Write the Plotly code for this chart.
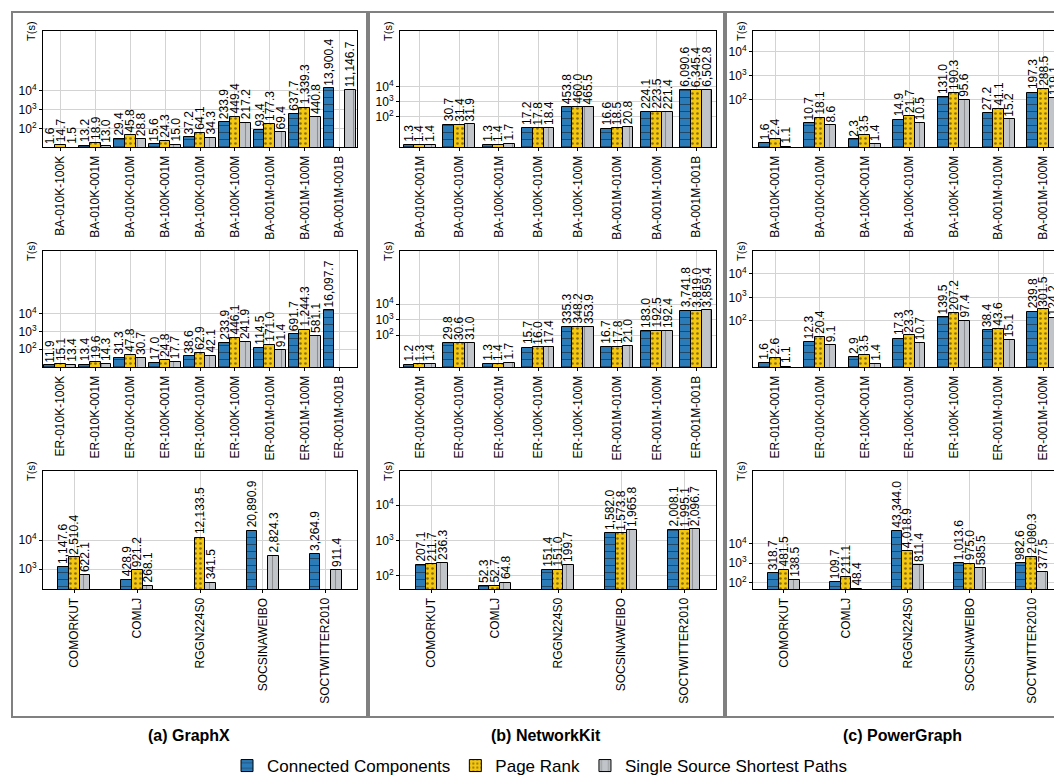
import math
import plotly.graph_objects as go

W, H = 1062, 780
SERIES = ["Connected Components", "Page Rank", "Single Source Shortest Paths"]

# ---------------- categories ----------------
ba_cats_gx = ["BA-010K-100K", "BA-010K-001M", "BA-010K-010M", "BA-100K-001M", "BA-100K-010M",
              "BA-100K-100M", "BA-001M-010M", "BA-001M-100M", "BA-001M-001B"]
ba_cats_nk = ["BA-010K-001M", "BA-010K-010M", "BA-100K-001M", "BA-100K-010M",
              "BA-100K-100M", "BA-001M-010M", "BA-001M-100M", "BA-001M-001B"]
ba_cats_pg = ["BA-010K-001M", "BA-010K-010M", "BA-100K-001M", "BA-100K-010M",
              "BA-100K-100M", "BA-001M-010M", "BA-001M-100M"]
er_cats_gx = ["ER-010K-100K", "ER-010K-001M", "ER-010K-010M", "ER-100K-001M", "ER-100K-010M",
              "ER-100K-100M", "ER-001M-010M", "ER-001M-100M", "ER-001M-001B"]
er_cats_nk = ["ER-010K-001M", "ER-010K-010M", "ER-100K-001M", "ER-100K-010M",
              "ER-100K-100M", "ER-001M-010M", "ER-001M-100M", "ER-001M-001B"]
er_cats_pg = ["ER-010K-001M", "ER-010K-010M", "ER-100K-001M", "ER-100K-010M",
              "ER-100K-100M", "ER-001M-010M", "ER-001M-100M"]
real_cats = ["COMORKUT", "COMLJ", "RGGN224S0", "SOCSINAWEIBO", "SOCTWITTER2010"]

# ---------------- values (seconds) ----------------
gx_ba_cc = [1.6, 13.2, 29.4, 15.6, 37.2, 233.9, 93.4, 637.7, 13900.4]
gx_ba_pr = [14.7, 18.9, 45.8, 24.3, 64.1, 449.4, 177.3, 1339.3, None]
gx_ba_sp = [1.5, 13.0, 28.8, 15.0, 34.3, 217.2, 69.4, 440.8, 11146.7]

gx_er_cc = [11.9, 13.4, 31.3, 17.0, 38.6, 233.9, 114.5, 691.7, 16097.7]
gx_er_pr = [15.1, 19.6, 47.8, 24.8, 62.9, 446.1, 171.0, 1244.3, None]
gx_er_sp = [13.4, 14.3, 30.7, 17.7, 42.1, 241.9, 91.4, 581.1, None]

gx_re_cc = [1147.6, 428.9, None, 20890.9, 3264.9]
gx_re_pr = [2510.4, 921.2, 12133.5, None, None]
gx_re_sp = [622.1, 268.1, 341.5, 2824.3, 911.4]

nk_ba_cc = [1.3, 30.7, 1.3, 17.2, 453.8, 16.6, 224.1, 6090.6]
nk_ba_pr = [1.4, 31.4, 1.4, 17.8, 460.0, 18.5, 223.5, 6345.4]
nk_ba_sp = [1.4, 31.9, 1.7, 18.4, 465.5, 20.8, 221.4, 6502.8]

nk_er_cc = [1.2, 29.8, 1.3, 15.7, 335.3, 16.7, 183.0, 3741.8]
nk_er_pr = [1.3, 30.6, 1.4, 16.0, 348.2, 17.8, 192.5, 3819.0]
nk_er_sp = [1.4, 31.0, 1.7, 17.4, 353.9, 21.0, 192.4, 3859.4]

nk_re_cc = [207.1, 52.3, 151.4, 1582.0, 2008.1]
nk_re_pr = [211.7, 52.7, 151.0, 1573.8, 1995.1]
nk_re_sp = [236.3, 64.8, 199.7, 1965.8, 2096.7]

pg_ba_cc = [1.6, 10.7, 2.3, 14.9, 131.0, 27.2, 197.3]
pg_ba_pr = [2.4, 18.1, 3.5, 21.7, 190.3, 41.1, 288.5]
pg_ba_sp = [1.1, 8.6, 1.4, 10.5, 95.6, 15.2, 119.1]

pg_er_cc = [1.6, 12.3, 2.9, 17.3, 139.5, 38.4, 239.8]
pg_er_pr = [2.6, 20.4, 3.5, 23.3, 207.2, 43.6, 301.5]
pg_er_sp = [1.1, 9.1, 1.4, 10.7, 97.4, 15.1, 124.2]

pg_re_cc = [318.7, 109.7, 43344.0, 1013.6, 982.6]
pg_re_pr = [481.5, 211.1, 4018.9, 975.0, 2080.3]
pg_re_sp = [138.5, 48.4, 811.4, 585.5, 377.5]

col_titles = ["(a) GraphX", "(b) NetworkKit", "(c) PowerGraph"]

# ---------------- layout geometry (pixels) ----------------
COL_PX = [(35, 349), (392, 708), (745, 1062)]
ROW_PX = [(23, 139), (243, 359), (463, 581)]
FRAME_X = [(4, 359), (361, 716), (718, 1080)]
FRAME_Y = (4, 709)
TITLE_X = [181, 538, 894]

panels = [
    # col, row, cats, cc, pr, sp, log y-range, x upper bound
    (0, 0, ba_cats_gx, gx_ba_cc, gx_ba_pr, gx_ba_sp, [1.05, 7.16], 8.5),
    (0, 1, er_cats_gx, gx_er_cc, gx_er_pr, gx_er_sp, [0.99, 7.54], 8.5),
    (0, 2, real_cats, gx_re_cc, gx_re_pr, gx_re_sp, [2.31, 6.38], 4.5),
    (1, 0, ba_cats_nk, nk_ba_cc, nk_ba_pr, nk_ba_sp, [0.0, 7.73], 7.5),
    (1, 1, er_cats_nk, nk_er_cc, nk_er_pr, nk_er_sp, [-0.06, 7.42], 7.5),
    (1, 2, real_cats, nk_re_cc, nk_re_pr, nk_re_sp, [1.63, 4.96], 4.5),
    (2, 0, ba_cats_pg, pg_ba_cc, pg_ba_pr, pg_ba_sp, [0.04, 4.85], 6.6),
    (2, 1, er_cats_pg, pg_er_cc, pg_er_pr, pg_er_sp, [0.02, 4.98], 6.6),
    (2, 2, real_cats, pg_re_cc, pg_re_pr, pg_re_sp, [1.69, 7.7], 4.62),
]

COLORS = ["#2b7bb9", "#f3c60f", "#c1c5c9"]
PATTERNS = [
    dict(shape="-", size=7, solidity=0.14, fgcolor="#111111", bgcolor="#2b7bb9"),
    dict(shape=".", size=5, solidity=0.22, fgcolor="#111111", bgcolor="#f3c60f"),
    dict(shape="|", size=9, solidity=0.12, fgcolor="#555555", bgcolor="#c1c5c9"),
]
FONT = "Liberation Sans, Arial, sans-serif"
BAR_PX = 10.7

fig = go.Figure()
annotations = []
layout = {}

for k, (c, r, cats, cc, pr, sp, yr, xmax) in enumerate(panels):
    ax = "" if k == 0 else str(k + 1)
    x0p, x1p = COL_PX[c]
    y0p, y1p = ROW_PX[r]
    xrange = [-0.5, xmax]
    group_px = (x1p - x0p) / (xrange[1] - xrange[0])
    w = BAR_PX / group_px
    for j, vals in enumerate([cc, pr, sp]):
        xs = [i + (j - 1) * w for i, v in enumerate(vals) if v is not None]
        ys = [v for v in vals if v is not None]
        fig.add_trace(go.Bar(
            x=xs, y=ys, width=w, name=SERIES[j], legendgroup=SERIES[j],
            showlegend=(k == 0),
            marker=dict(color=COLORS[j], pattern=PATTERNS[j], line=dict(color="black", width=1)),
            xaxis="x" + ax, yaxis="y" + ax, hoverinfo="skip",
        ))
        for xv, v in zip(xs, ys):
            annotations.append(dict(
                x=xv, y=max(math.log10(v), yr[0]), xref="x" + ax, yref="y" + ax,
                text=f"{v:,.1f}", textangle=-90, showarrow=False,
                xanchor="center", yanchor="bottom", yshift=1,
                font=dict(family=FONT, size=12, color="black"),
            ))
    layout["xaxis" + ax] = dict(
        domain=[x0p / W, x1p / W], anchor="y" + ax, range=xrange,
        tickmode="array", tickvals=list(range(len(cats))), ticktext=cats,
        tickangle=-90, tickfont=dict(family=FONT, size=12, color="black"),
        showgrid=True, gridcolor="#d3d3d3", gridwidth=1, zeroline=False,
        showline=True, linecolor="black", linewidth=1, mirror=True,
        ticks="outside", ticklen=3, tickcolor="black", fixedrange=True,
    )
    tv = [100, 1000, 10000]
    layout["yaxis" + ax] = dict(
        domain=[1 - y1p / H, 1 - y0p / H], anchor="x" + ax, type="log", range=yr,
        tickmode="array", tickvals=tv,
        ticktext=["10<sup>2</sup>", "10<sup>3</sup>", "10<sup>4</sup>"],
        tickfont=dict(family=FONT, size=12, color="black"),
        showgrid=True, gridcolor="#d3d3d3", gridwidth=1, zeroline=False,
        showline=True, linecolor="black", linewidth=1, mirror=True,
        ticks="outside", ticklen=3, tickcolor="black", fixedrange=True,
    )
    annotations.append(dict(
        x=(x0p - 12) / W, y=1 - y0p / H, xref="paper", yref="paper",
        text="T(s)", textangle=-90, showarrow=False, xanchor="center", yanchor="middle",
        font=dict(family=FONT, size=11, color="black"),
    ))

shapes = []
for c in range(3):
    fx0, fx1 = FRAME_X[c]
    shapes.append(dict(type="rect", xref="paper", yref="paper",
                       x0=fx0 / W, x1=fx1 / W, y0=1 - FRAME_Y[1] / H, y1=1 - FRAME_Y[0] / H,
                       line=dict(color="#808080", width=2), layer="below"))
    annotations.append(dict(
        x=TITLE_X[c] / W, y=1 - 727 / H, xref="paper", yref="paper",
        text="<b>" + col_titles[c] + "</b>", showarrow=False, xanchor="center", yanchor="middle",
        font=dict(family=FONT, size=16, color="black"),
    ))

fig.update_layout(
    width=W, height=H, margin=dict(l=0, r=0, t=0, b=0),
    paper_bgcolor="white", plot_bgcolor="white",
    barmode="overlay", bargap=0,
    annotations=annotations, shapes=shapes,
    showlegend=True,
    legend=dict(orientation="h", x=532 / W, xanchor="center", y=1 - 758 / H, yanchor="middle",
                font=dict(family=FONT, size=17, color="black"), itemwidth=30,
                bgcolor="rgba(0,0,0,0)", tracegroupgap=0),
    font=dict(family=FONT, color="black"),
    **layout,
)

fig.write_html("out.html")
